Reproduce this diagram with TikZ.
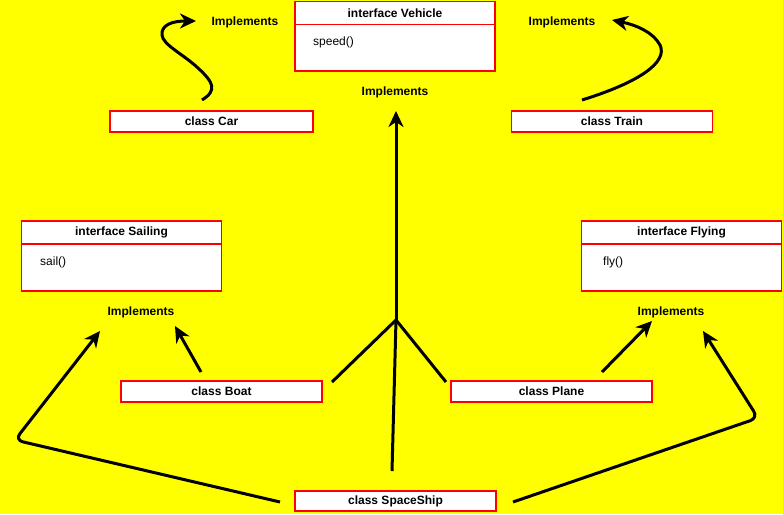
\documentclass[tikz,border=0pt]{standalone}
\usepackage{fontspec}
\setmainfont{Liberation Sans}
\usetikzlibrary{arrows.meta}
\definecolor{bgyellow}{RGB}{255,255,0}
\definecolor{boxred}{RGB}{255,0,0}
\begin{document}
\begin{tikzpicture}[x=1pt,y=-1pt,
  txt/.style={font=\fontsize{12}{14}\selectfont},
  btxt/.style={font=\bfseries\fontsize{12}{14}\selectfont},
  classbox/.style={btxt, draw=boxred, fill=white, line width=1.8pt, inner sep=0pt, minimum width=201pt, minimum height=21pt},
  headbox/.style={btxt, draw=boxred, fill=white, line width=1.8pt, inner sep=0pt, minimum width=200pt, minimum height=23pt},
  bodybox/.style={draw=boxred, fill=white, line width=1.8pt, inner sep=0pt, minimum width=200pt, minimum height=47pt},
  impl/.style={btxt, inner sep=1pt},
  conn/.style={line width=3pt, -{Stealth[length=16pt, width=15pt, inset=5pt]}},
  plain/.style={line width=3pt}
]
\useasboundingbox (0,0) rectangle (783,514);
\fill[bgyellow] (0,0) rectangle (783,514);

% interface Vehicle
\node[bodybox] (vehbody) at (395,47.5) {};
\node[headbox] (vehhead) at (395,13) {interface Vehicle};
\node[txt, anchor=west, inner sep=0pt] (speed) at (313,42) {speed()};

% interface Sailing
\node[bodybox] (sailbody) at (121.5,267.5) {};
\node[headbox] (sailhead) at (121.5,232.5) {interface Sailing};
\node[txt, anchor=west, inner sep=0pt] (sail) at (40,262) {sail()};

% interface Flying
\node[bodybox] (flybody) at (681.5,267.5) {};
\node[headbox] (flyhead) at (681.5,232.5) {interface Flying};
\node[txt, anchor=west, inner sep=0pt] (fly) at (603,262) {fly()};

% classes
\node[classbox, minimum width=203pt] (car) at (211.5,121.5) {class Car};
\node[classbox] (train) at (612,121.5) {class Train};
\node[classbox] (boat) at (221.5,391.5) {class Boat};
\node[classbox] (plane) at (551.5,391.5) {class Plane};
\node[classbox, minimum height=20pt] (ship) at (395.5,501) {class SpaceShip};

% Implements labels
\node[impl] (implcar) at (245,22) {Implements};
\node[impl] (impltrain) at (562,22) {Implements};
\node[impl] (implveh) at (395,92) {Implements};
\node[impl] (implsail) at (141,312) {Implements};
\node[impl] (implfly) at (671,312) {Implements};

% connector coordinates
\coordinate (carS) at (202,100);
\coordinate (carT) at (196,21);
\coordinate (trainS) at (582,100);
\coordinate (trainT) at (612,20);
\coordinate (boatS) at (201,372);
\coordinate (boatT) at (175,326);
\coordinate (planeS) at (602,372);
\coordinate (planeT) at (652,321);
\coordinate (shipL) at (280,502);
\coordinate (bendL) at (15,440);
\coordinate (tipL) at (100,331);
\coordinate (shipR) at (513,502);
\coordinate (bendR) at (758,418);
\coordinate (tipR) at (703,331);
\coordinate (junc) at (396,320);
\coordinate (boatE) at (332,382);
\coordinate (planeW) at (446,382);
\coordinate (shipN) at (392,471);
\coordinate (vehT) at (396,111);

% connectors
\draw[conn] (carS) .. controls (218,90) and (213,82) .. (198,68)
  .. controls (183,54) and (163,45) .. (162,35)
  .. controls (161,25) and (172,21) .. (carT);
\draw[conn] (trainS) .. controls (640,82) and (668,62) .. (660,45)
  .. controls (653,32) and (636,25) .. (trainT);
\draw[conn] (boatS) -- (boatT);
\draw[conn] (planeS) -- (planeT);
\draw[conn, rounded corners=8pt] (shipL) -- (bendL) -- (tipL);
\draw[conn, rounded corners=8pt] (shipR) -- (bendR) -- (tipR);
\draw[plain] (boatE) -- (junc);
\draw[plain] (planeW) -- (junc);
\draw[plain] (shipN) -- (junc);
\draw[conn] (junc) -- (vehT);
\end{tikzpicture}
\end{document}
